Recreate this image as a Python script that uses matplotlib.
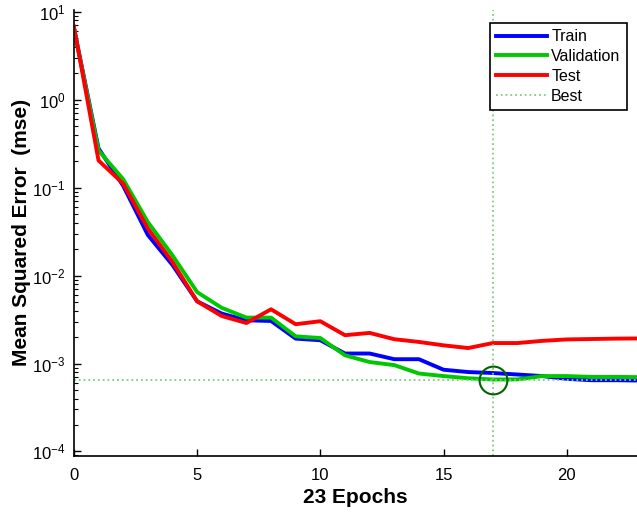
import numpy as np
import matplotlib
matplotlib.use("Agg")
import matplotlib.pyplot as plt

plt.rcParams['font.family'] = ['Liberation Sans', 'DejaVu Sans']
plt.rcParams['mathtext.fontset'] = 'custom'
plt.rcParams['mathtext.rm'] = 'Liberation Sans'

epochs = np.arange(0, 24)
train = [6.6, 0.28, 0.105, 0.029, 0.0132, 0.0051, 0.0037, 0.0031, 0.00305, 0.00192,
         0.00184, 0.0013, 0.0013, 0.00112, 0.00112, 0.00085, 0.0008, 0.00078, 0.00075,
         0.00072, 0.00067, 0.000646, 0.000646, 0.00064]
valid = [6.5, 0.265, 0.125, 0.0407, 0.017, 0.0065, 0.0043, 0.00333, 0.00333, 0.00204,
         0.00195, 0.00124, 0.00104, 0.00096, 0.00077, 0.00072, 0.00068, 0.000658, 0.00066,
         0.00072, 0.00072, 0.000705, 0.000705, 0.0007]
test = [6.8, 0.204, 0.111, 0.0344, 0.0143, 0.0051, 0.00347, 0.00289, 0.00414, 0.0028,
        0.00303, 0.0021, 0.00223, 0.00189, 0.00176, 0.00161, 0.0015, 0.00171, 0.00171,
        0.00181, 0.00188, 0.0019, 0.00192, 0.00193]
best_epoch = 17
best_val = 0.000658

fig = plt.figure(figsize=(6.37, 5.18), dpi=100)
ax = fig.add_axes([0.116, 0.12, 0.884, 0.861])

ax.semilogy(epochs, train, color='#0000ff', lw=2.8, label='Train')
ax.semilogy(epochs, valid, color='#00c800', lw=2.8, label='Validation')
ax.semilogy(epochs, test, color='#ff0000', lw=2.8, label='Test')
ax.axvline(best_epoch, color='#80cc80', ls=':', lw=1.3, label='Best')
ax.axhline(best_val, color='#80cc80', ls=':', lw=1.3)
ax.plot([best_epoch], [best_val], 'o', ms=20, mfc='none', mec='#006400', mew=1.5)

ax.set_xlim(0, 22.85)
ax.set_ylim(10**-4.05, 10**1.023)
ax.set_xticks([0, 5, 10, 15, 20])
ax.spines['top'].set_visible(False)
ax.spines['right'].set_visible(False)
ax.spines['left'].set_linewidth(1.2)
ax.spines['bottom'].set_linewidth(1.2)
ax.tick_params(direction='in', labelsize=12, length=5, width=1.0, pad=6)
ax.tick_params(which='minor', direction='in', length=3, width=0.8)
ax.tick_params(axis='x', pad=9)

ax.set_xlabel('23 Epochs', fontsize=15, fontweight='bold', labelpad=3)
ax.set_ylabel('Mean Squared Error  (mse)', fontsize=15, fontweight='bold', labelpad=1)

leg = ax.legend(loc='upper right', bbox_to_anchor=(0.982, 0.971), fontsize=11.5,
                fancybox=False, edgecolor='black', framealpha=1,
                handlelength=3.2, handletextpad=0.25, borderpad=0.4,
                labelspacing=0.3, borderaxespad=0)
leg.get_frame().set_linewidth(1.2)

fig.savefig('out.png', dpi=100)
